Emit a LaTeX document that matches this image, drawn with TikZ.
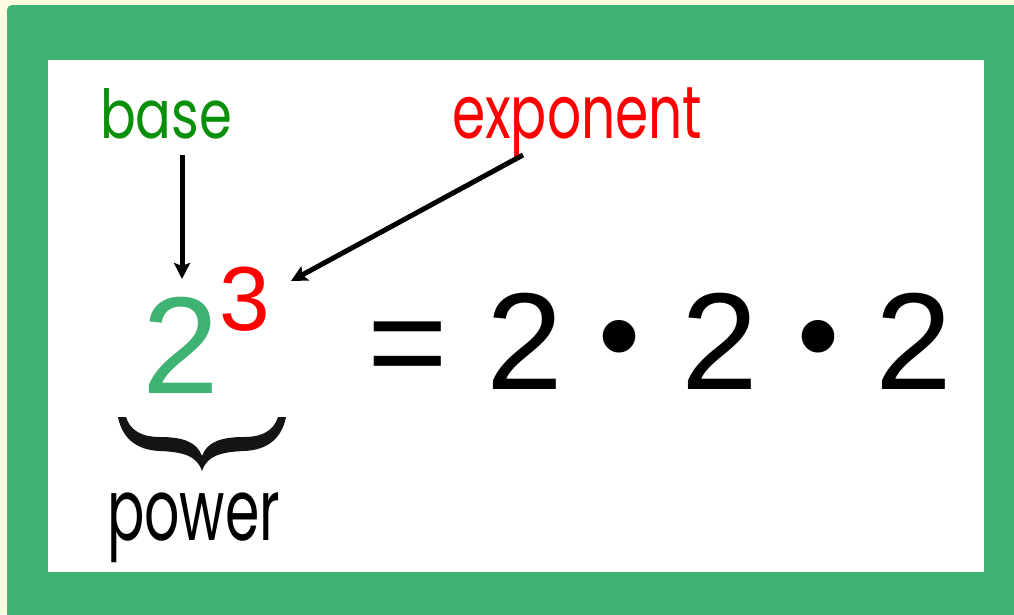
\documentclass[tikz,border=0pt]{standalone}
\usepackage{fontspec}
\setmainfont{Liberation Sans}
\newfontfamily\hand{Poppins}
\usetikzlibrary{arrows.meta}
\definecolor{cream}{HTML}{FFFCE0}
\definecolor{frame}{HTML}{3FB373}
\definecolor{basegreen}{HTML}{0A8F0A}
\definecolor{exred}{HTML}{FF0000}
\tikzset{
  big/.style={inner sep=0pt, anchor=base, font=\fontsize{138}{138}\selectfont},
  handtxt/.style={inner sep=0pt, anchor=base west},
  arr/.style={line width=5pt, -{Stealth[length=16pt,width=16pt,inset=3pt]}},
}
\begin{document}
\begin{tikzpicture}[x=1pt,y=-1pt]
\useasboundingbox (0,0) rectangle (1014,614);
\fill[cream] (0,0) rectangle (1014,614);
\fill[frame, rounded corners=5pt] (7,5) rectangle (1030,630);
\fill[white] (48,60) rectangle (984,572);
% labels
\node[handtxt, text=basegreen] (base) at (100,138) {\resizebox{132pt}{50pt}{\hand base}};
\node[handtxt, text=exred] (exponent) at (452,138) {\resizebox*{250pt}{70pt}{\hand exponent}};
\node[handtxt, text=black] (power) at (107,540) {\resizebox*{173pt}{70pt}{\hand power}};
% math
\node[big, text=frame] (two) at (181,393) {2};
\node[big, text=exred, font=\fontsize{91}{91}\selectfont] (three) at (245,330) {3};
\node[big] (eq) at (408,389) {=};
\node[big] (twoA) at (525,389) {2};
\node[big, font=\fontsize{120}{120}\selectfont] (dotA) at (619,376) {•};
\node[big] (twoB) at (720,389) {2};
\node[big, font=\fontsize{120}{120}\selectfont] (dotB) at (818,376) {•};
\node[big] (twoC) at (914,389) {2};
% arrows
\coordinate (baseStart) at (182,155);
\coordinate (baseTip) at (182,279);
\coordinate (expStart) at (523,155);
\coordinate (expTip) at (291,281);
\draw[arr] (baseStart) -- (baseTip);
\draw[arr] (expStart) -- (expTip);
% brace
\fill[black!92] (118,417) .. controls (122,437) and (135,450) .. (160,451)
  .. controls (184,452) and (197,456) .. (202,471)
  .. controls (207,456) and (220,452) .. (244,451)
  .. controls (269,450) and (282,437) .. (286,417)
  -- (278,417) .. controls (274,430) and (263,437) .. (244,437)
  .. controls (221,437) and (207,442) .. (202,456)
  .. controls (197,442) and (183,437) .. (160,437)
  .. controls (141,437) and (130,430) .. (126,417) -- cycle;
\end{tikzpicture}
\end{document}
